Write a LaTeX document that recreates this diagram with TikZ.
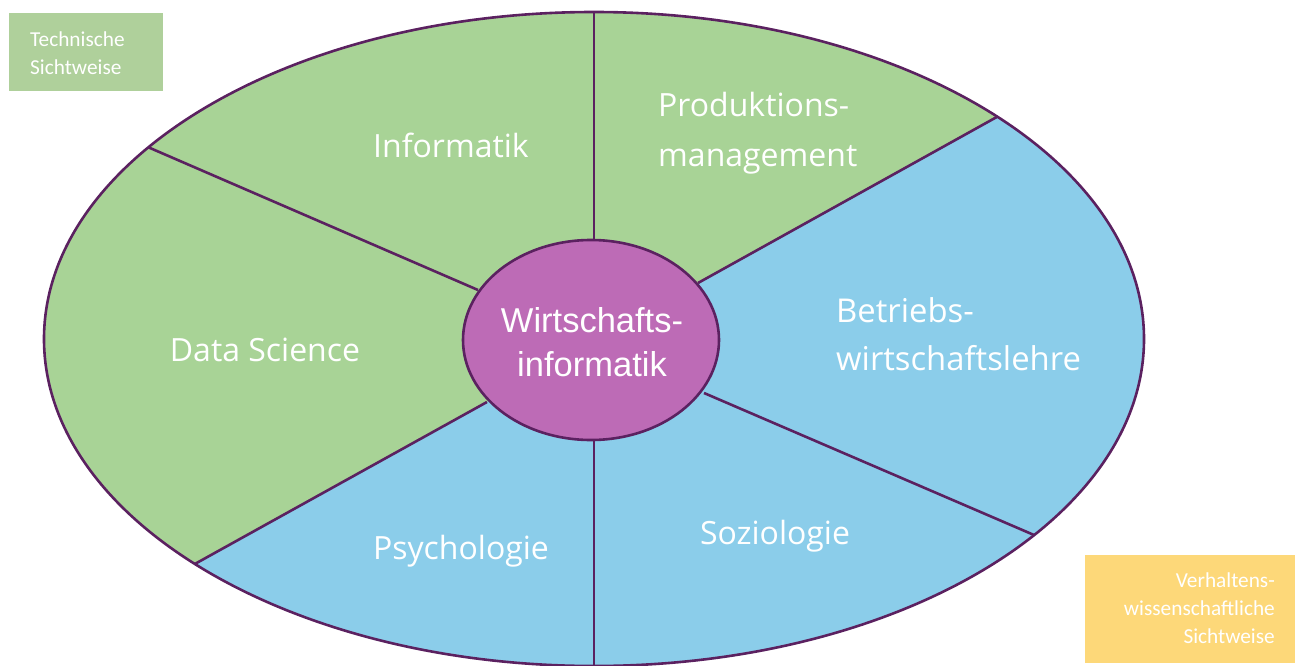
\documentclass[tikz,border=0pt]{standalone}
\usepackage{fontspec}
\usetikzlibrary{calc,shapes.geometric}
\setmainfont{Open Sans}
\newfontfamily\boxfont{Carlito}
\newfontfamily\centerfont{Liberation Sans}
\begin{document}
\begin{tikzpicture}[x=1pt,y=-1pt,
  lbl/.style={text=white,font=\fontsize{32}{50}\selectfont,inner sep=0pt},
  boxlbl/.style={text=white,font=\boxfont\fontsize{21.3}{28}\selectfont,inner sep=0pt},
  divider/.style={draw=outline,line width=2.6pt}]
\definecolor{sgreen}{HTML}{A8D396}
\definecolor{sblue}{HTML}{8BCDEA}
\definecolor{spurple}{HTML}{BD6BB6}
\definecolor{outline}{HTML}{5B2160}
\definecolor{boxgreen}{HTML}{AFD09B}
\definecolor{boxyellow}{HTML}{FDD879}
\useasboundingbox (0,0) rectangle (1298,666);
% coordinates
\coordinate (c) at (594,339);
\coordinate (i1) at (478,290); \coordinate (o1) at (150,148);
\coordinate (i2) at (698,283); \coordinate (o2) at (995,118);
\coordinate (i3) at (704,393); \coordinate (o3) at (1034,535);
\coordinate (i4) at (487,402); \coordinate (o4) at (193,565);
% outer ellipse
\fill[sgreen] (c) ellipse [x radius=550, y radius=327];
\begin{scope}
  \clip (c) ellipse [x radius=550, y radius=327];
  \fill[sblue] (i2) -- ($(i2)!1.6!(o2)$) -- (1300,-20) -- (1300,700) -- ($(i4)!1.6!(o4)$) -- (i4) -- cycle;
  \draw[divider] (594,0) -- (594,345);
  \draw[divider] (594,335) -- (594,680);
  \draw[divider] (i1) -- ($(i1)!1.3!(o1)$);
  \draw[divider] (i2) -- ($(i2)!1.3!(o2)$);
  \draw[divider] (i3) -- ($(i3)!1.3!(o3)$);
  \draw[divider] (i4) -- ($(i4)!1.3!(o4)$);
\end{scope}
\draw[outline,line width=2.6pt] (c) ellipse [x radius=550, y radius=327];
% center
\node[ellipse,draw=outline,fill=spurple,line width=2.6pt,minimum width=256,minimum height=200,inner sep=0pt] (wi) at (591,340) {};
\node[lbl,align=center,font=\centerfont\fontsize{34.5}{44}\selectfont] (wit) at (592,342) {Wirtschafts-\\informatik};
% labels
\node[lbl] (inf) at (451,145) {Informatik};
\node[lbl,anchor=west,align=left,font=\fontsize{32}{50}\selectfont] (prod) at (658,133) {Produktions-\\management};
\node[lbl] (ds) at (265,350) {Data Science};
\node[lbl,anchor=west,align=left,font=\fontsize{32.8}{48}\selectfont] (bwl) at (836,334) {Betriebs-\\wirtschaftslehre};
\node[lbl] (psy) at (461,551) {Psychologie};
\node[lbl] (soz) at (775,536) {Soziologie};
% side boxes
\fill[boxgreen] (9,13) rectangle (163,91);
\node[boxlbl,anchor=west,align=left] (tech) at (30,53) {Technische\\Sichtweise};
\fill[boxyellow] (1085,555) rectangle (1295,663);
\node[boxlbl,anchor=east,align=right] (verh) at (1275,608) {Verhaltens-\\wissenschaftliche\\Sichtweise};
\end{tikzpicture}
\end{document}
